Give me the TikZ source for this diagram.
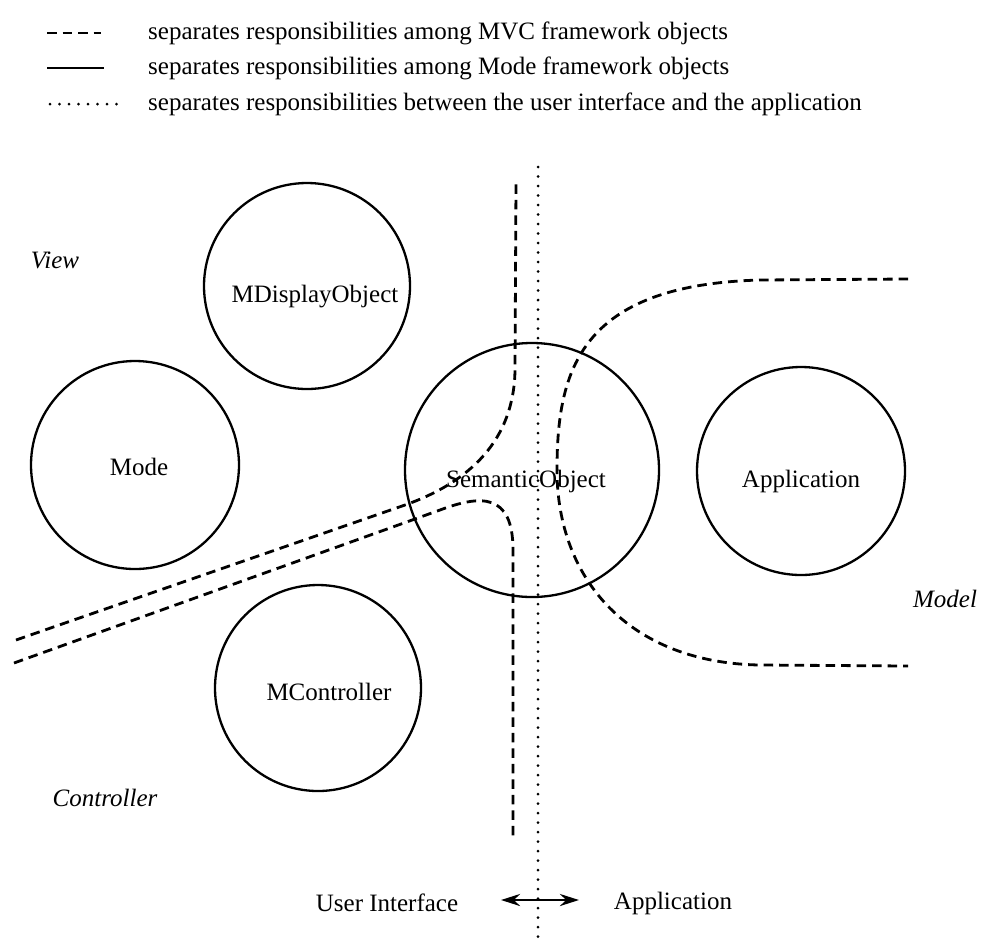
\documentclass[tikz,border=0pt]{standalone}
\usepackage{fontspec}
\setmainfont{Liberation Serif}
\usetikzlibrary{arrows.meta}
\begin{document}
\begin{tikzpicture}[x=1pt,y=-1pt,
  circ/.style={draw, circle, line width=2.3pt, inner sep=0pt},
  lbl/.style={font=\fontsize{25}{30}\selectfont, inner sep=0pt},
  ilbl/.style={font=\fontsize{25}{30}\selectfont\itshape, inner sep=0pt},
  mvc/.style={line width=2.8pt, dash pattern=on 9.5pt off 6pt},
  modeline/.style={line width=2.8pt},
  ui/.style={line width=3pt, line cap=round, dash pattern=on 0pt off 9.5pt},
  dblarrow/.style={line width=2.8pt, {Stealth[length=19pt,width=12pt]}-{Stealth[length=19pt,width=12pt]}},
]
\useasboundingbox (0,0) rectangle (984,946);

% legend
\coordinate (l1a) at (47,33);  \coordinate (l1b) at (101,33);
\coordinate (l2a) at (47,68);  \coordinate (l2b) at (104,68);
\coordinate (l3a) at (50,104); \coordinate (l3b) at (118,104);
\draw[mvc] (l1a) -- (l1b);
\draw[modeline] (l2a) -- (l2b);
\draw[ui] (l3a) -- (l3b);
\node[lbl, anchor=west] (t1) at (148,33) {separates responsibilities among MVC framework objects};
\node[lbl, anchor=west] (t2) at (148,68) {separates responsibilities among Mode framework objects};
\node[lbl, anchor=west] (t3) at (148,104) {separates responsibilities between the user interface and the application};

% circles
\node[circ, minimum size=206pt] (mdo) at (307,286) {};
\node[circ, minimum size=208pt] (mode) at (135,465) {};
\node[circ, minimum size=254pt] (sem) at (532,470) {};
\node[circ, minimum size=208pt] (app) at (801,471) {};
\node[circ, minimum size=206pt] (mctl) at (318,688) {};

\node[lbl] (mdotxt) at (315,297) {MDisplayObject};
\node[lbl] (modetxt) at (139,467) {Mode};
\node[lbl] (semtxt) at (526,481) {SemanticObject};
\node[lbl] (apptxt) at (801,481) {Application};
\node[lbl] (mctltxt) at (329,692) {MController};

% region labels
\node[ilbl] (view) at (55,260) {View};
\node[ilbl] (ctl) at (105,798) {Controller};
\node[ilbl] (model) at (945,599) {Model};
\node[lbl] (ui) at (387,903) {User Interface};
\node[lbl] (appl) at (673,903) {Application};

% UI / application separator
\coordinate (dtop) at (538,167);
\coordinate (dbot) at (538,938);
\draw[ui] (dtop) -- (dbot);

% MVC separators
\coordinate (a0) at (16,640);
\coordinate (a1) at (405,505);
\coordinate (a2) at (515,370);
\coordinate (a3) at (516,183);
\draw[mvc] (a0) -- (a1) .. controls (470,482) and (514,440) .. (a2) -- (a3);

\coordinate (b0) at (14,663);
\coordinate (b1) at (440,510);
\coordinate (b2) at (513,550);
\coordinate (b3) at (513,840);
\draw[mvc] (b0) -- (b1) .. controls (480,495) and (513,492) .. (b2) -- (b3);

\coordinate (c0) at (908,279);
\coordinate (c1) at (760,280);
\coordinate (c2) at (557,470);
\coordinate (c3) at (760,665);
\coordinate (c4) at (908,666);
\draw[mvc] (c0) -- (c1) .. controls (580,285) and (557,370) .. (c2)
  .. controls (557,580) and (630,663) .. (c3) -- (c4);

% arrow
\coordinate (arL) at (501,900);
\coordinate (arR) at (579,900);
\draw[dblarrow] (arL) -- (arR);
\end{tikzpicture}
\end{document}
